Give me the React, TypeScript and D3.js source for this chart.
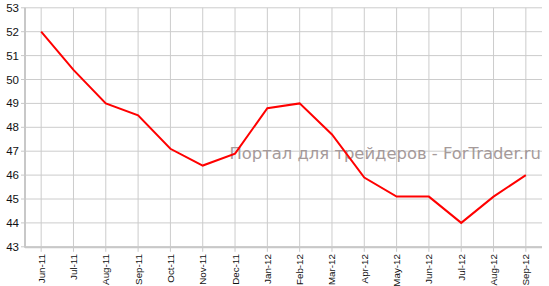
import React from "react";
import * as d3 from "d3";

const categories = ["Jun-11","Jul-11","Aug-11","Sep-11","Oct-11","Nov-11","Dec-11","Jan-12","Feb-12","Mar-12","Apr-12","May-12","Jun-12","Jul-12","Aug-12","Sep-12"];
const values = [52, 50.4, 49, 48.5, 47.1, 46.4, 46.9, 48.8, 49.0, 47.7, 45.9, 45.1, 45.1, 44.0, 45.1, 46.0];
const yTicks = [43, 44, 45, 46, 47, 48, 49, 50, 51, 52, 53];
const watermark = "Портал для трейдеров - ForTrader.ru";

export default function App() {
  const W = 549, H = 286;
  const left = 25, right = 542, top = 7.8, bottom = 246.8;
  const x = d3.scalePoint<string>().domain(categories).range([left, right]).padding(0.5);
  const y = d3.scaleLinear().domain([43, 53]).range([bottom, top]);
  const line = d3.line<number>().x((_, i) => x(categories[i])!).y(d => y(d));
  const font = "'Liberation Sans', Arial, sans-serif";
  return (
    <svg width={W} height={H} style={{ position: "absolute", left: 0, top: 0 }}>
      <rect width={W} height={H} fill="#fff" />
      {yTicks.map(t => (
        <line key={"h" + t} x1={left} x2={right} y1={y(t)} y2={y(t)} stroke="#cccccc" strokeWidth={1} />
      ))}
      {categories.map(c => (
        <line key={"v" + c} x1={x(c)} x2={x(c)} y1={top} y2={bottom} stroke="#cccccc" strokeWidth={1} />
      ))}
      <text x={541} y={159} textAnchor="end" fontFamily="'DejaVu Sans', Verdana, sans-serif" fontSize={16.4} fill="#a59a9a">{watermark}</text>
      <path d={line(values) || ""} fill="none" stroke="#ff0000" strokeWidth={2} />
      <line x1={left} x2={left} y1={top} y2={bottom + 1} stroke="#c8c8c8" strokeWidth={2} />
      <line x1={left} x2={right} y1={bottom + 0.5} y2={bottom + 0.5} stroke="#c8c8c8" strokeWidth={2} />
      {yTicks.map(t => (
        <g key={"yt" + t}>
          <line x1={left - 4} x2={left} y1={y(t)} y2={y(t)} stroke="#c8c8c8" strokeWidth={1} />
          <text x={19} y={y(t) + 4} textAnchor="end" fontFamily={font} fontSize={11.5} fill="#111">{t}</text>
        </g>
      ))}
      {categories.map(c => (
        <g key={"xt" + c}>
          <line x1={x(c)} x2={x(c)} y1={bottom} y2={bottom + 5} stroke="#c8c8c8" strokeWidth={1} />
          <text transform={`translate(${x(c)! + 3.5},${254}) rotate(-90)`} textAnchor="end" fontFamily={font} fontSize={9.8} fill="#111">{c}</text>
        </g>
      ))}
    </svg>
  );
}
